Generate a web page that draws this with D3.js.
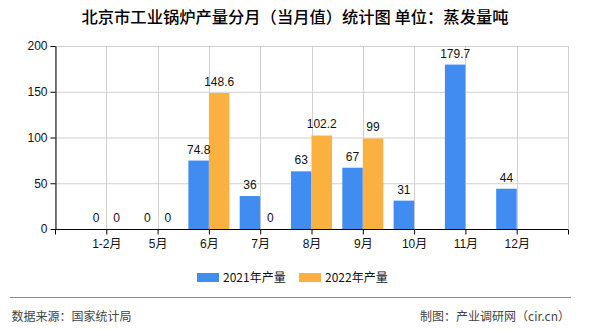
<!DOCTYPE html>
<html><head><meta charset="utf-8">
<script src="https://cdn.jsdelivr.net/npm/d3@7"></script>
<style>
body{margin:0;background:#fff;}
text{font-family:"Liberation Sans","Noto Sans CJK SC",sans-serif;}
</style></head>
<body><svg id="c" width="590" height="330"></svg>
<script>
const categories = ["1-2月","5月","6月","7月","8月","9月","10月","11月","12月"];
const values2021 = [0,0,74.8,36,63,67,31,179.7,44];
const values2022 = [0,0,148.6,0,102.2,99,null,null,null];
const seriesNames = ["2021年产量","2022年产量"];
const yTicks = [0,50,100,150,200];
const colors = ["#418CF0","#FBB13F"];

(function(){
const svg = d3.select("#c");
const pL=55, pR=568, pT=46, pB=229;
const x = d3.scalePoint().domain(categories).range([pL,pR]).padding(1);
const y = d3.scaleLinear().domain([0,200]).range([pB,pT]);
const bw = 20.5;

// title
svg.append("text").attr("x",295).attr("y",23).attr("text-anchor","middle")
  .attr("font-size","16.3px").attr("font-weight","500").attr("fill","#000")
  .style("font-family","'Noto Sans CJK SC',sans-serif")
  .text("北京市工业锅炉产量分月（当月值）统计图 单位：蒸发量吨");

// grid
const g = svg.append("g");
g.selectAll(".hg").data(yTicks.filter(d=>d>0)).enter().append("line")
  .attr("x1",pL).attr("x2",pR).attr("y1",d=>y(d)+0.5).attr("y2",d=>y(d)+0.5)
  .attr("stroke","#d0d0d0");
const vx = [pL, ...categories.map(c=>x(c)), pR];
g.selectAll(".vg").data(vx).enter().append("line")
  .attr("x1",d=>Math.round(d)+0.5).attr("x2",d=>Math.round(d)+0.5).attr("y1",pT).attr("y2",pB)
  .attr("stroke","#d0d0d0");

// bars
const data = categories.map((c,i)=>({c, a:values2021[i], b:values2022[i]}));
svg.selectAll(".ba").data(data).enter().append("rect")
  .attr("x",d=>x(d.c)-bw).attr("width",bw)
  .attr("y",d=>y(d.a)).attr("height",d=>pB-y(d.a)).attr("fill",colors[0]);
svg.selectAll(".bb").data(data.filter(d=>d.b!=null)).enter().append("rect")
  .attr("x",d=>x(d.c)).attr("width",bw)
  .attr("y",d=>y(d.b)).attr("height",d=>pB-y(d.b)).attr("fill",colors[1]);

// labels
svg.selectAll(".la").data(data).enter().append("text")
  .attr("x",d=>x(d.c)-bw/2).attr("y",d=>y(d.a)-7).attr("text-anchor","middle")
  .attr("font-size","12px").attr("fill","#111").text(d=>d.a);
svg.selectAll(".lb").data(data.filter(d=>d.b!=null)).enter().append("text")
  .attr("x",d=>x(d.c)+bw/2).attr("y",d=>y(d.b)-7).attr("text-anchor","middle")
  .attr("font-size","12px").attr("fill","#111").text(d=>d.b);

// axes
const ya = svg.append("g").attr("transform",`translate(${pL+0.5},0)`)
  .call(d3.axisLeft(y).tickValues(yTicks).tickSize(5).tickSizeOuter(0));
ya.select(".domain").attr("stroke","#000");
ya.selectAll("text").attr("font-size","12px").attr("fill","#111");
const xa = svg.append("g").attr("transform",`translate(0,${pB+0.5})`)
  .call(d3.axisBottom(x).tickSize(5).tickSizeOuter(0));
xa.select(".domain").attr("stroke","#000").attr("d",`M${pL},0H${pR}`);
xa.selectAll("text").attr("font-size","12px").attr("fill","#111").attr("dy","0.9em");
xa.selectAll(".edge").data([pL,pR]).enter().append("line")
  .attr("x1",d=>d+0.5).attr("x2",d=>d+0.5).attr("y1",0).attr("y2",5).attr("stroke","#000");

// legend
const lg = svg.append("g");
const lx = [197,299];
seriesNames.forEach((n,i)=>{
  lg.append("rect").attr("x",lx[i]).attr("y",273).attr("width",22).attr("height",9).attr("fill",colors[i]);
  lg.append("text").attr("x",lx[i]+26).attr("y",282).attr("font-size","12px").attr("fill","#111")
    .style("font-family","'Noto Sans CJK SC',sans-serif").text(n);
});

// footer
svg.append("line").attr("x1",10).attr("x2",571).attr("y1",297.5).attr("y2",297.5).attr("stroke","#888");
svg.append("text").attr("x",11.5).attr("y",321).attr("font-size","12px").attr("fill","#444")
  .style("font-family","'Noto Sans CJK SC',sans-serif").text("数据来源：国家统计局");
svg.append("text").attr("x",570).attr("y",321).attr("text-anchor","end").attr("font-size","12px").attr("fill","#444")
  .style("font-family","'Noto Sans CJK SC',sans-serif").text("制图：产业调研网（cir.cn）");
})();
</script></body></html>
